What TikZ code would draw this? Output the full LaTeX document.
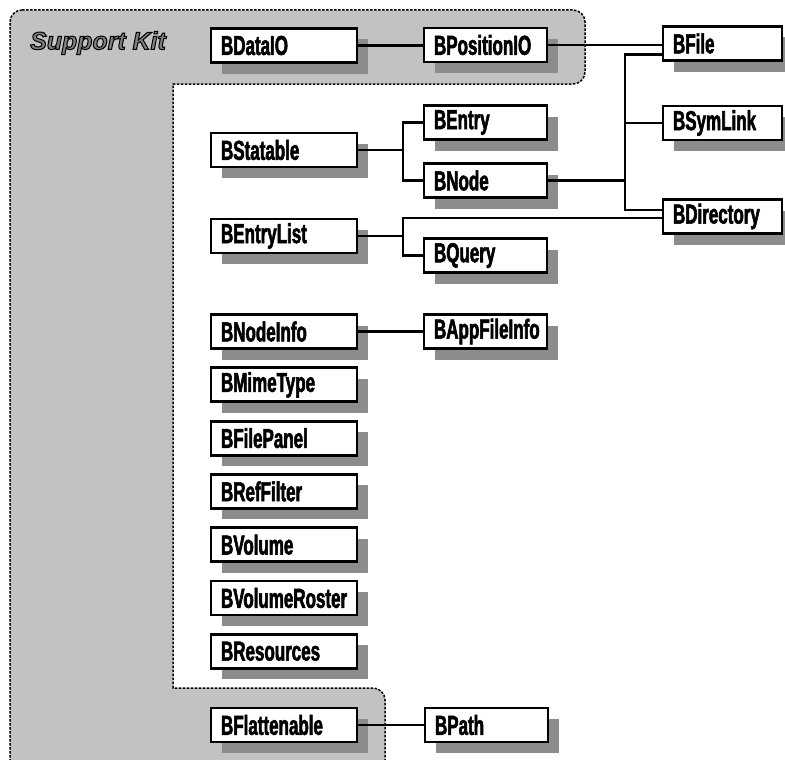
\documentclass[tikz,border=0pt]{standalone}
\usepackage{fontspec}
\newfontfamily\boxfont{Liberation Sans Bold}[FakeStretch=0.62, FakeBold=2]
\newfontfamily\kitfont{Liberation Sans Bold Italic}[FakeBold=4]
\usetikzlibrary{positioning}
\usetikzlibrary{shadows}

\begin{document}
\begin{tikzpicture}[
x=1bp, y=-1bp,
classbox/.style={draw=black, fill=white, line width=2.8bp, minimum height=34bp, inner xsep=10bp, inner ysep=0pt, align=left,
  font=\boxfont\fontsize{27.5}{27.5}\selectfont,
  drop shadow={shadow xshift=11bp, shadow yshift=-11bp, fill=black!45, opacity=1}},
leftbox/.style={classbox, text width=126bp},
midbox/.style={classbox, text width=103bp},
rightbox/.style={classbox, text width=99bp},
kitarea/.style={fill=black!24, draw=black, line width=1.5bp, dash pattern=on 2.5bp off 1.5bp},
link/.style={line width=2.2bp},
node distance=16.5bp
]
\useasboundingbox (0,0) rectangle (785,760);
% support kit area
\draw[kitarea] (10,10) [rounded corners=12bp] -- (585,10) -- (585,84) [sharp corners] -- (173,84) -- (173,688) [rounded corners=12bp] -- (385,688) -- (385,790) -- (10,790) -- cycle;
\node[inner sep=0pt, font=\kitfont\fontsize{25}{25}\selectfont] (kit) at (98,43)
  {\textcolor{black!50}{\special{pdf:literal 0 G}Support Kit}};

% left column
\node[leftbox] (BDataIO) at (284,45.5) {BDataIO};
\node[leftbox] (BStatable) at (284,150) {BStatable};
\node[leftbox] (BEntryList) at (284,236) {BEntryList};
\node[leftbox] (BNodeInfo) at (284,331.5) {BNodeInfo};
\node[leftbox, below=of BNodeInfo] (BMimeType) {BMimeType};
\node[leftbox, below=of BMimeType] (BFilePanel) {BFilePanel};
\node[leftbox, below=of BFilePanel] (BRefFilter) {BRefFilter};
\node[leftbox, below=of BRefFilter] (BVolume) {BVolume};
\node[leftbox, below=of BVolume] (BVolumeRoster) {BVolumeRoster};
\node[leftbox, below=of BVolumeRoster] (BResources) {BResources};
\node[leftbox] (BFlattenable) at (284,725) {BFlattenable};

% middle column
\node[midbox] (BPositionIO) at (485.5,45) {BPositionIO};
\node[midbox] (BEntry) at (485.5,122.5) {BEntry};
\node[midbox] (BNode) at (485.5,180.5) {BNode};
\node[midbox] (BQuery) at (485.5,255.5) {BQuery};
\node[midbox] (BAppFileInfo) at (485.5,331.5) {BAppFileInfo};
\node[midbox] (BPath) at (486.5,725) {BPath};

% right column
\node[rightbox] (BFile) at (722.5,43.5) {BFile};
\node[rightbox] (BSymLink) at (722.5,123) {BSymLink};
\node[rightbox] (BDirectory) at (722.5,216.5) {BDirectory};

% forks
\coordinate (statfork) at (403,150);
\coordinate (listfork) at (403,236);
\coordinate (nodefork) at (625,180.5);

\draw[link] (BDataIO.east) -- (BDataIO.east -| BPositionIO.west);
\draw[link] (BPositionIO.east) -- (BPositionIO.east -| BFile.west);
\draw[link] (BStatable.east) -- (statfork);
\draw[link] (BEntry.west) -| (statfork) |- (BNode.west);
\draw[link] (BNode.east) -- (nodefork);
\draw[link] ([yshift=-11bp]BFile.west) -| (nodefork) |- ([yshift=6.5bp]BDirectory.west);
\draw[link] (BSymLink.west) -- (BSymLink.west -| nodefork);
\draw[link] (BEntryList.east) -- (listfork);
\draw[link] ([yshift=-1.5bp]BDirectory.west) -| (listfork) |- (BQuery.west);
\draw[link] (BNodeInfo) -- (BAppFileInfo);
\draw[link] (BFlattenable) -- (BPath);
\end{tikzpicture}
\end{document}
